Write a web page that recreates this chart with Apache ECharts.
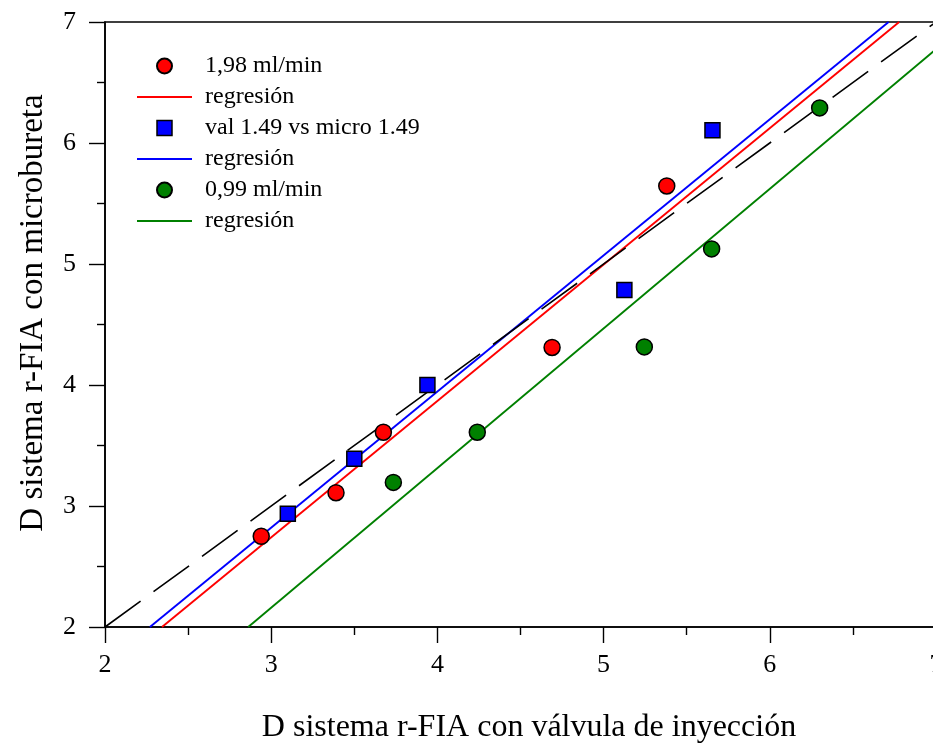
<!DOCTYPE html>
<html>
<head>
<meta charset="utf-8">
<script src="https://cdn.jsdelivr.net/npm/echarts@6/dist/echarts.min.js"></script>
<style>
  html, body { margin: 0; padding: 0; background: #fff; }
  #chart { width: 933px; height: 744px; }
</style>
</head>
<body>
<div id="chart"></div>
<script>
// Measured pairs: x = valve injection r-FIA, y = microburette r-FIA
const redX   = [2.94, 3.39, 3.675, 4.69, 5.38];
const redY   = [2.75, 3.11, 3.61, 4.31, 5.645];
const blueX  = [3.10, 3.50, 3.94, 5.125, 5.655];
const blueY  = [2.935, 3.39, 4.00, 4.785, 6.105];
const greenX = [3.735, 4.24, 5.245, 5.65, 6.30];
const greenY = [3.195, 3.61, 4.315, 5.125, 6.29];

const seriesNames = ['1,98 ml/min', 'val 1.49 vs micro 1.49', '0,99 ml/min'];
const fitLabel = 'regresión';
const xTicks = [2, 3, 4, 5, 6, 7];
const yTicks = [2, 3, 4, 5, 6, 7];
const xTitle = 'D sistema r-FIA con válvula de inyección';
const yTitle = 'D sistema r-FIA con microbureta';

const AX_MIN = 2, AX_MAX = 7;
const FONT = "'Liberation Serif', 'Times New Roman', serif";

function pairs(xs, ys) { return xs.map((x, i) => [x, ys[i]]); }

// Least-squares line, returned as its two ends inside the plot box
function fitLine(xs, ys) {
  const n = xs.length;
  const mx = xs.reduce((a, b) => a + b, 0) / n;
  const my = ys.reduce((a, b) => a + b, 0) / n;
  let sxy = 0, sxx = 0;
  for (let i = 0; i < n; i++) {
    sxy += (xs[i] - mx) * (ys[i] - my);
    sxx += (xs[i] - mx) * (xs[i] - mx);
  }
  const b = sxy / sxx, a = my - b * mx;
  const x0 = Math.max(AX_MIN, (AX_MIN - a) / b);
  const x1 = Math.min(AX_MAX, (AX_MAX - a) / b);
  return [[x0, a + b * x0], [x1, a + b * x1]];
}

const RED = '#ff0000', BLUE = '#0000ff', GREEN = '#008000';
// distinct internal names, all shown as "regresión" in the legend
const fitNames = [fitLabel + ' ', fitLabel + '  ', fitLabel + '   '];

const LINE_ICON = 'path://M0,0H55V1.8H0Z';
const SQUARE_ICON = 'path://M0,0H10V10H0Z';

const chart = echarts.init(document.getElementById('chart'), null, { renderer: 'canvas' });

function scatter(name, xs, ys, color, symbol, size) {
  return {
    name, type: 'scatter', data: pairs(xs, ys), symbol, symbolSize: size, z: 5,
    itemStyle: { color, borderColor: '#000', borderWidth: 1.5, opacity: 1 }
  };
}
function fit(name, xs, ys, color) {
  return {
    name, type: 'line', data: fitLine(xs, ys), showSymbol: false, symbol: 'none',
    lineStyle: { color, width: 1.9 }, itemStyle: { color }, z: 3, silent: true
  };
}

const axisCommon = {
  type: 'value', min: AX_MIN, max: AX_MAX, interval: 1,
  axisLine: { show: true, lineStyle: { color: '#000', width: 1.6 } },
  axisTick: { show: true, length: 16, inside: false, lineStyle: { color: '#000', width: 1.4 } },
  minorTick: { show: true, splitNumber: 2, length: 8, lineStyle: { color: '#000', width: 1.4 } },
  splitLine: { show: false }
};

chart.setOption({
  animation: false,
  backgroundColor: '#fff',
  grid: {
    left: 105, top: 22, width: 831, height: 605,
    outerBoundsMode: 'none', containLabel: false,
    show: true, borderColor: '#000', borderWidth: 1.6, backgroundColor: 'transparent'
  },
  xAxis: Object.assign({}, axisCommon, {
    axisLabel: {
      margin: 25, color: '#000', fontFamily: FONT, fontSize: 26,
      showMinLabel: true, showMaxLabel: true,
      formatter: v => xTicks.includes(v) ? String(v) : ''
    }
  }),
  yAxis: Object.assign({}, axisCommon, {
    axisLabel: {
      margin: 29, color: '#000', fontFamily: FONT, fontSize: 26,
      showMinLabel: true, showMaxLabel: true,
      formatter: v => yTicks.includes(v) ? String(v) : ''
    }
  }),
  legend: {
    orient: 'vertical', left: 137, top: 54, padding: 0,
    itemWidth: 55, itemHeight: 15, itemGap: 7, symbolKeepAspect: true,
    data: [
      { name: seriesNames[0] },
      { name: fitNames[0], icon: LINE_ICON },
      { name: seriesNames[1], icon: SQUARE_ICON, itemStyle: { color: BLUE, borderColor: '#000', borderWidth: 1.5 } },
      { name: fitNames[1], icon: LINE_ICON },
      { name: seriesNames[2] },
      { name: fitNames[2], icon: LINE_ICON }
    ],
    formatter: n => n.trim(),
    textStyle: { color: '#000', fontFamily: FONT, fontSize: 24, lineHeight: 23, padding: [0, 0, 0, 8] },
    selectedMode: false
  },
  graphic: [
    {
      type: 'text', x: 529, y: 728,
      style: { text: xTitle, fill: '#000', font: '32px ' + FONT, textAlign: 'center', textVerticalAlign: 'middle' }
    },
    {
      type: 'text', x: 33, y: 313, rotation: Math.PI / 2,
      style: { text: yTitle, fill: '#000', font: '33px ' + FONT, textAlign: 'center', textVerticalAlign: 'middle' }
    }
  ],
  series: [
    scatter(seriesNames[0], redX, redY, RED, 'circle', 16),
    fit(fitNames[0], redX, redY, RED),
    scatter(seriesNames[1], blueX, blueY, BLUE, 'rect', 15),
    fit(fitNames[1], blueX, blueY, BLUE),
    scatter(seriesNames[2], greenX, greenY, GREEN, 'circle', 16),
    fit(fitNames[2], greenX, greenY, GREEN),
    {
      name: 'identidad', type: 'line', data: [[AX_MIN, AX_MIN], [AX_MAX, AX_MAX]],
      showSymbol: false, symbol: 'none', silent: true, z: 4,
      lineStyle: { color: '#000', width: 1.6, type: [44, 16] }
    }
  ]
});
</script>
</body>
</html>
